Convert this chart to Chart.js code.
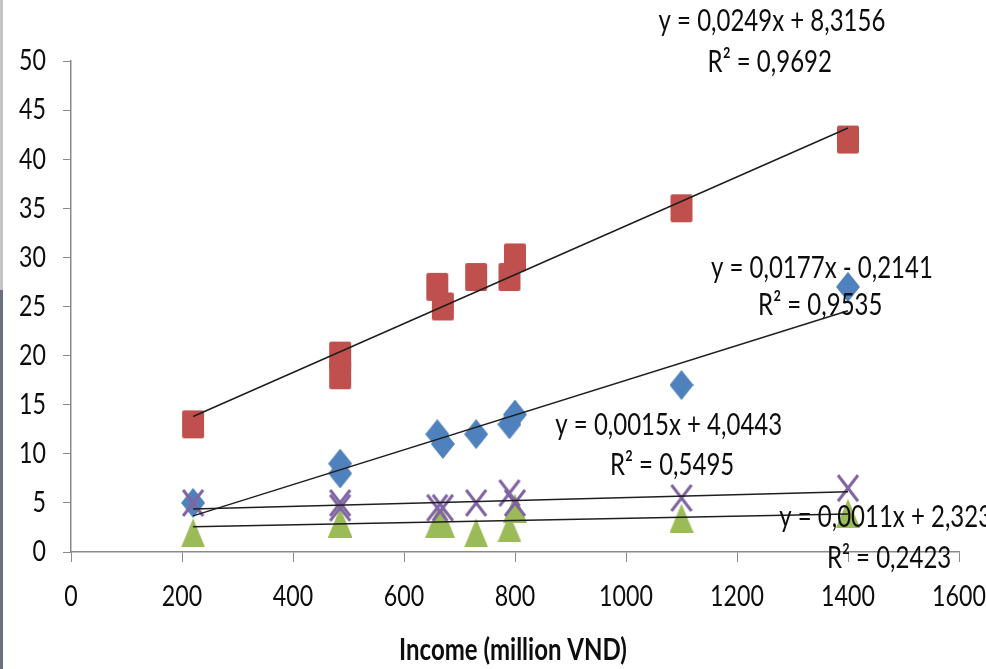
<!DOCTYPE html>
<html>
<head>
<meta charset="utf-8">
<script src="https://cdn.jsdelivr.net/npm/chart.js@4.4.1/dist/chart.umd.min.js"></script>
<style>
   html, body { margin: 0; padding: 0; background: #fff; }
   #wrap { position: relative; width: 986px; height: 669px; }
   #edge { position: absolute; left: 0; top: 0; width: 3px; height: 669px;
      background: linear-gradient(#c4c4c4 0, #c4c4c4 290px, #6c707c 290px, #6c707c 100%); }
</style>
</head>
<body>
<div id="wrap">
   <canvas id="chart" width="986" height="669"></canvas>
   <div id="edge"></div>
</div>
<script>
// доход, млн VND
const incomeX = [220, 485, 485, 660, 670, 730, 790, 800, 1100, 1400]

const redVals = [13, 20, 18, 27, 25, 28, 28, 30, 35, 42]
const blueVals = [5, 9, 8, 12, 11, 12, 13, 14, 17, 27]
const purpleVals = [5, 5, 4.5, 4.5, 4.5, 5, 6, 5, 5.5, 6.5]
const greenVals = [2, 3, 3, 3, 3, 2, 2.5, 4.5, 3.5, 4]

// линейные тренды: красный, синий, фиолетовый, зелёный
const slopes = [0.0249, 0.0177, 0.0015, 0.0011]
const intercepts = [8.3156, -0.2141, 4.0443, 2.323]
const eqTexts = ['y = 0,0249x + 8,3156', 'y = 0,0177x - 0,2141', 'y = 0,0015x + 4,0443', 'y = 0,0011x + 2,323']
const r2Texts = ['R² = 0,9692', 'R² = 0,9535', 'R² = 0,5495', 'R² = 0,2423']

const xTicks = [0, 200, 400, 600, 800, 1000, 1200, 1400, 1600]
const yTicks = [0, 5, 10, 15, 20, 25, 30, 35, 40, 45, 50]
const xTitle = 'Income (million VND)'

const FONT = 'Lato, "Open Sans", sans-serif'
const SQUEEZE = 0.8   // текст в оригинале сжат по горизонтали

function toPoints(vals) {
   return vals.map((v, i) => ({ x: incomeX[i], y: v }))
}

// маркеры как в Excel (чуть вытянутые по вертикали)
function marker(kind, color) {
   const c = document.createElement('canvas')
   const w = 24, h = 30
   c.width = w
   c.height = h
   const g = c.getContext('2d')
   g.fillStyle = color
   g.strokeStyle = color
   if (kind === 'square') {
      g.beginPath()
      g.roundRect(1, 1, 22, 28, 2)
      g.fill()
   } else if (kind === 'diamond') {
      g.beginPath()
      g.moveTo(w / 2, 0)
      g.lineTo(w, h / 2)
      g.lineTo(w / 2, h)
      g.lineTo(0, h / 2)
      g.closePath()
      g.fill()
   } else if (kind === 'triangle') {
      g.beginPath()
      g.moveTo(w / 2, 1)
      g.lineTo(w, h)
      g.lineTo(0, h)
      g.closePath()
      g.fill()
   } else {
      g.lineWidth = 3
      g.beginPath()
      g.moveTo(2, 2)
      g.lineTo(w - 2, h - 2)
      g.moveTo(w - 2, 2)
      g.lineTo(2, h - 2)
      g.stroke()
   }
   return c
}

const minX = Math.min(...incomeX)
const maxX = Math.max(...incomeX)

function trend(i) {
   return {
      type: 'line',
      data: [minX, maxX].map(x => ({ x: x, y: slopes[i] * x + intercepts[i] })),
      borderColor: '#1e1e1e',
      borderWidth: 1.5,
      pointRadius: 0,
      fill: false,
      order: 0
   }
}

// якоря подписей трендов в единицах осей
const eqAnchors = [[1263, 54.0, 'center'], [1353, 28.9, 'center'], [1077, 12.9, 'center'], [1276, 3.56, 'left']]
const r2Anchors = [[1259, 49.9], [1350, 25.15], [1083, 8.86], [1474, -0.6]]

function squeezedText(ctx, text, x, y, align) {
   ctx.save()
   ctx.translate(x, y)
   ctx.scale(SQUEEZE, 1)
   ctx.textAlign = align
   ctx.fillText(text, 0, 0)
   ctx.restore()
}

const textLayer = {
   id: 'textLayer',
   afterDraw(chart) {
      const { ctx, scales } = chart
      const sx = scales.x, sy = scales.y
      ctx.save()
      ctx.fillStyle = '#0d0d0d'
      ctx.textBaseline = 'middle'

      ctx.font = '29px ' + FONT
      xTicks.forEach(v => squeezedText(ctx, String(v), sx.getPixelForValue(v), 597, 'center'))
      yTicks.forEach(v => squeezedText(ctx, String(v), 46, sy.getPixelForValue(v), 'right'))

      ctx.font = 'bold 30px ' + FONT
      squeezedText(ctx, xTitle, (sx.left + sx.right) / 2 - 2, 650, 'center')

      ctx.font = '30px ' + FONT
      eqTexts.forEach((t, i) => {
         const a = eqAnchors[i]
         squeezedText(ctx, t, sx.getPixelForValue(a[0]), sy.getPixelForValue(a[1]), a[2])
      })
      r2Texts.forEach((t, i) => {
         const a = r2Anchors[i]
         squeezedText(ctx, t, sx.getPixelForValue(a[0]), sy.getPixelForValue(a[1]), 'center')
      })
      ctx.restore()
   }
}

new Chart(document.getElementById('chart'), {
   type: 'scatter',
   data: {
      datasets: [
         { label: 'blue', data: toPoints(blueVals), pointStyle: marker('diamond', '#4F81BD'), order: 4 },
         { label: 'red', data: toPoints(redVals), pointStyle: marker('square', '#C0504D'), order: 3 },
         { label: 'green', data: toPoints(greenVals), pointStyle: marker('triangle', '#9BBB59'), order: 2 },
         { label: 'purple', data: toPoints(purpleVals), pointStyle: marker('x', '#8064A2'), order: 1 },
         trend(0), trend(1), trend(2), trend(3)
      ]
   },
   options: {
      responsive: false,
      animation: false,
      layout: { padding: { left: 0, top: 61, right: 27, bottom: 0 } },
      plugins: {
         legend: { display: false },
         tooltip: { enabled: false }
      },
      scales: {
         x: {
            type: 'linear',
            min: 0,
            max: 1600,
            afterBuildTicks: (s) => { s.ticks = xTicks.map(v => ({ value: v })) },
            afterFit: (s) => { s.height = 117 },
            grid: { drawOnChartArea: false, drawTicks: true, tickLength: 10, color: '#8a8a8a' },
            border: { color: '#8a8a8a', width: 1.5 },
            ticks: { display: false }
         },
         y: {
            type: 'linear',
            min: 0,
            max: 50,
            afterBuildTicks: (s) => { s.ticks = yTicks.map(v => ({ value: v })) },
            afterFit: (s) => { s.width = 71 },
            grid: { drawOnChartArea: false, drawTicks: true, tickLength: 8, color: '#8a8a8a' },
            border: { color: '#8a8a8a', width: 1.5 },
            ticks: { display: false }
         }
      }
   },
   plugins: [textLayer]
})
</script>
</body>
</html>
